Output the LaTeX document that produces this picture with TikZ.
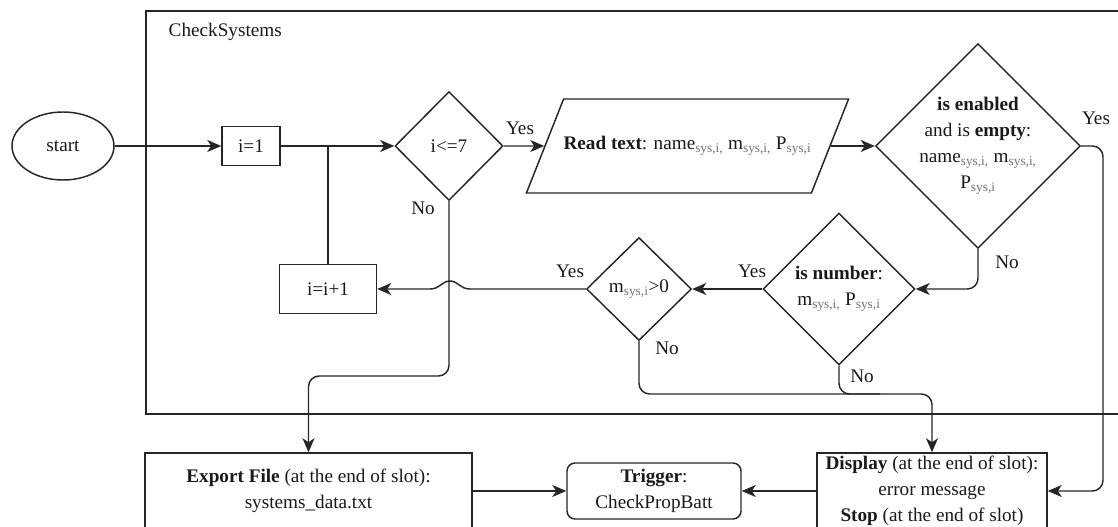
\documentclass[tikz,border=0pt]{standalone}
\usepackage{fontspec}
\setmainfont{Liberation Serif}
\usetikzlibrary{shapes.geometric,arrows.meta}
\newcommand{\sysi}[1][]{\textsubscript{\textcolor{black!55}{sys,i#1}}}
\tikzset{
    every node/.style={font=\fontsize{14.4}{19.5}\selectfont, text=black!90},
    block/.style={draw=black!85, line width=1.1pt, align=center, inner sep=0pt},
    decision/.style={block, diamond},
    link/.style={draw=black!85, line width=1.1pt, rounded corners=8pt},
    flow/.style={link, -{Stealth[length=10.5pt,width=9pt,inset=3pt]}},
}
\begin{document}
\begin{tikzpicture}[x=0.75pt,y=-0.75pt]
            \useasboundingbox (0,0) rectangle (1118,527);
            \clip (0,0) rectangle (1118,527);
            \draw[line width=1.1pt, draw=black!85] (146,11) rectangle (1140,414);
            \node[anchor=west] (title) at (164,32) {CheckSystems};
            \node[block, ellipse, minimum width=76.5pt, minimum height=51pt] (start) at (63,146) {start};
            \node[block, minimum width=43.5pt, minimum height=29.25pt] (init) at (251,146) {i=1};
            \node[decision, minimum width=81pt, minimum height=81.75pt] (loop) at (449,146) {i<=7};
            \node[block, trapezium, trapezium left angle=67.5, trapezium right angle=112.5, trapezium stretches body, inner ysep=26.5pt, minimum width=237.75pt, minimum height=70.5pt] (read) at (687.5,146) {\textbf{Read text}: name\sysi[,] m\sysi[,] P\sysi};
            \node[decision, minimum width=153.75pt, minimum height=153.75pt] (enabled) at (978,146) {};
            \node[align=center] (enabled-text) at (enabled) {\textbf{is enabled}\\and is \textbf{empty}:\\name\sysi[,] m\sysi[,]\\P\sysi};
            \node[decision, minimum width=114pt, minimum height=114pt] (number) at (839,289) {\textbf{is number}:\\m\sysi[,] P\sysi};
            \node[decision, minimum width=78.75pt, minimum height=77.25pt] (positive) at (639,289) {m\sysi>0};
            \node[block, minimum width=72.75pt, minimum height=36.75pt] (incr) at (328,289) {i=i+1};
            \node[block, minimum width=245.25pt, minimum height=57pt] (export) at (308.5,491) {\textbf{Export File} (at the end of slot):\\systems\_data.txt};
            \node[block, rounded corners=6pt, minimum width=130.5pt, minimum height=42pt] (trigger) at (654,491) {\textbf{Trigger}:\\CheckPropBatt};
            \node[block, minimum width=172.5pt, minimum height=57pt] (display) at (932,491) {\textbf{Display} (at the end of slot):\\error message\\\textbf{Stop} (at the end of slot)};
            \node (yes-loop) at (520,128) {Yes};
            \node (no-loop) at (423,208) {No};
            \node (yes-enabled) at (1096,118) {Yes};
            \node (no-enabled) at (1007,262) {No};
            \node (yes-number) at (752,271) {Yes};
            \node (no-number) at (862,376) {No};
            \node (yes-positive) at (570,271) {Yes};
            \node (no-positive) at (667,348) {No};
            \draw[flow] (start) -- (init);
            \draw[flow] (init) -- (loop);
            \draw[link] (incr) -- (incr |- init);
            \draw[flow] (loop) -- (read);
            \draw[flow] (read) -- (enabled);
            \draw[flow] (enabled.east) -- (1103,146) -- (1103,491) -- (display.east);
            \draw[flow] (enabled.south) -- (978,289) -- (number.east);
            \draw[flow] (number) -- (positive);
            \draw[flow, sharp corners] (positive.west) -- (470,289) .. controls (460,289) and (458,281) .. (450,281) .. controls (442,281) and (440,289) .. (430,289) -- (incr.east);
            \draw[flow] (loop.south) -- (449,376) -- (308.5,376) -- (export.north);
            \draw[flow] (positive.south) -- (639,394) -- (932,394) -- (display.north);
            \draw[link] (number.south) -- (839,394) -- (880,394);
            \draw[flow] (export) -- (trigger);
            \draw[flow] (display) -- (trigger);
\end{tikzpicture}
\end{document}
